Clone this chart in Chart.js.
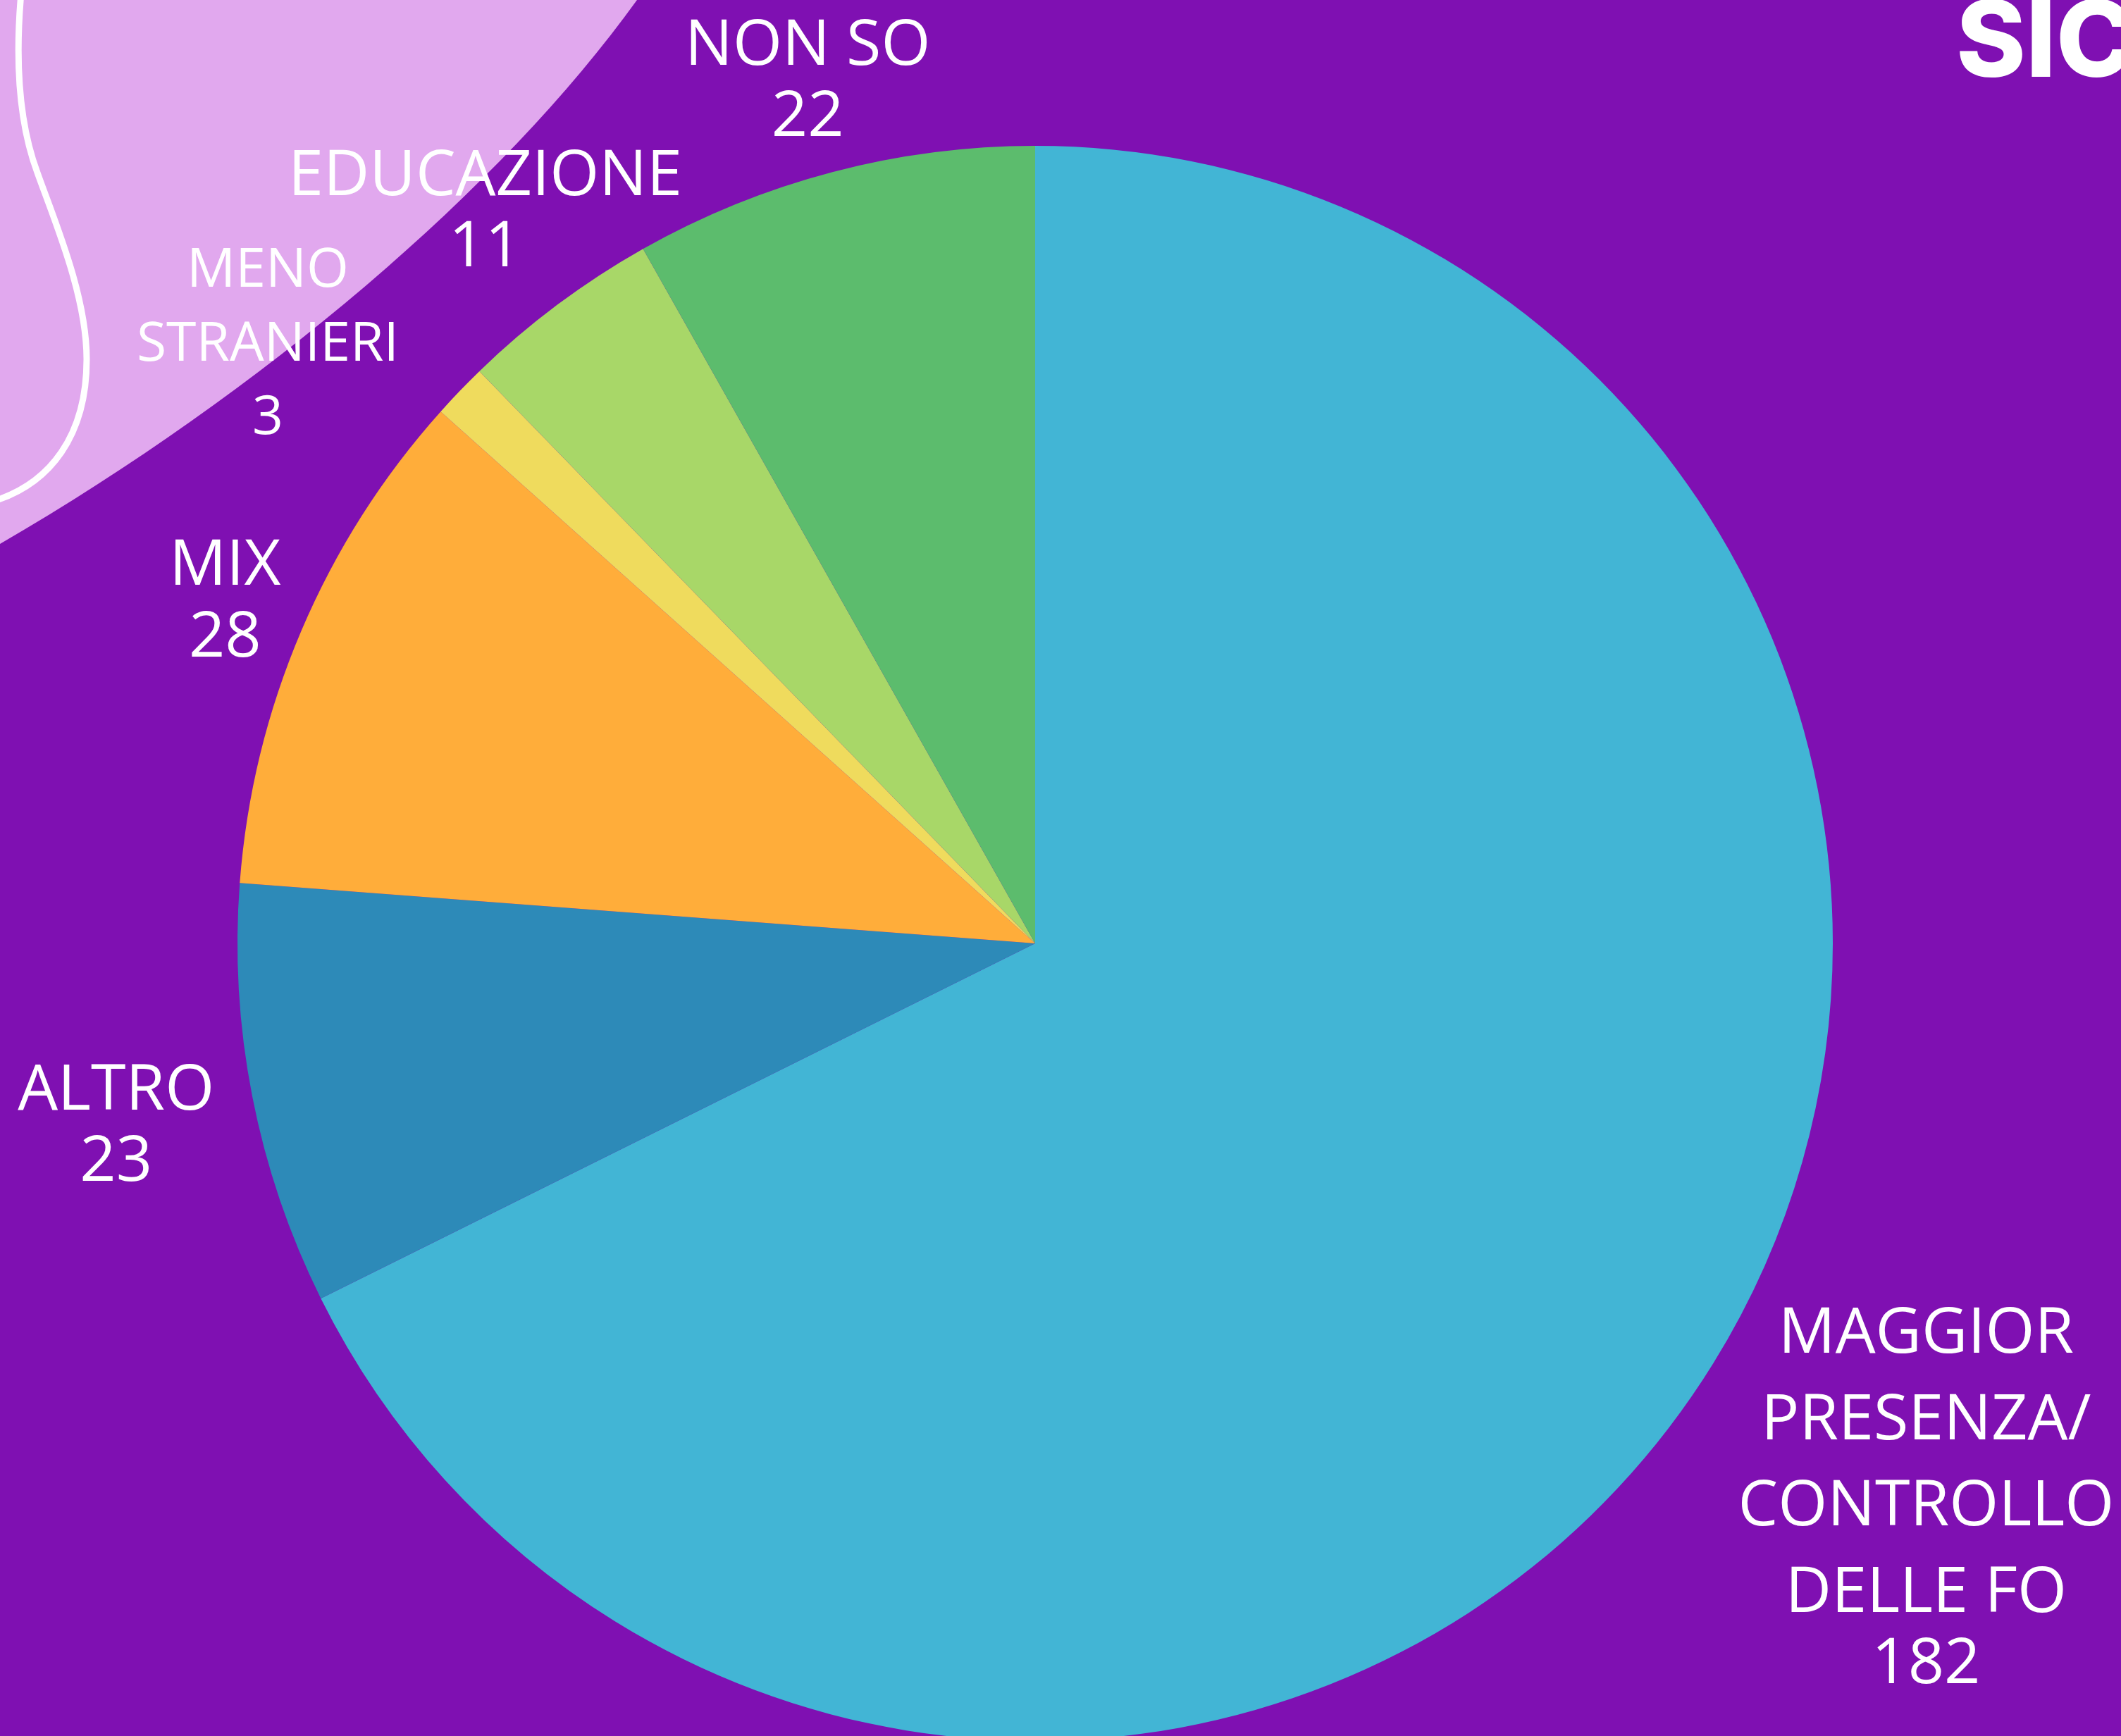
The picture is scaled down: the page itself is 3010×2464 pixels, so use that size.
<!DOCTYPE html>
<html>
<head>
<meta charset="utf-8">
<script src="https://cdn.jsdelivr.net/npm/chart.js@4.4.1/dist/chart.umd.min.js"></script>
<style>
    html, body { margin: 0; padding: 0; background: #7F10B2; overflow: hidden; }
    canvas { display: block; }
</style>
</head>
<body>
<canvas id="chart1" width="3010" height="2464"></canvas>
<script>
// data, clockwise from 12 o'clock
const categories = [
    ['MAGGIOR', 'PRESENZA/', 'CONTROLLO', 'DELLE FO'],
    ['ALTRO'],
    ['MIX'],
    ['MENO', 'STRANIERI'],
    ['EDUCAZIONE'],
    ['NON SO']
];
const values = [182, 23, 28, 3, 11, 22];
const sliceColors = ['#42B5D5', '#2D8AB8', '#FFAD3A', '#EFDB5D', '#A8D768', '#5CBC6D'];

// label layout: distance from centre (x radius), angle nudge (deg), font size
const labelDist = [1.314, 1.174, 1.104, 1.223, 1.151, 1.122];
const labelNudge = [0, 0, 0, -5.7, 0, 0];
const labelSize = [90, 90, 90, 77, 90, 90];

// purple page, lavender blob with white squiggle, and the cut-off title
const backdrop = {
    id: 'backdrop',
    beforeDraw(chart) {
        const ctx = chart.ctx;
        ctx.save();
        ctx.fillStyle = '#7F10B2';
        ctx.fillRect(0, 0, chart.width, chart.height);

        ctx.fillStyle = '#E1A8EE';
        ctx.beginPath();
        ctx.moveTo(0, 0);
        ctx.lineTo(904, 0);
        ctx.bezierCurveTo(712, 267, 372, 556, 0, 772);
        ctx.closePath();
        ctx.fill();

        ctx.strokeStyle = '#FFFFFF';
        ctx.lineWidth = 9;
        ctx.beginPath();
        ctx.moveTo(30, -10);
        ctx.bezierCurveTo(22, 80, 25, 170, 53, 245);
        ctx.bezierCurveTo(78, 315, 123, 420, 123, 510);
        ctx.bezierCurveTo(123, 620, 70, 685, -5, 710);
        ctx.stroke();

        ctx.fillStyle = '#FFFFFF';
        ctx.font = '800 150px Inter';
        ctx.textAlign = 'left';
        ctx.textBaseline = 'alphabetic';
        ctx.fillText('SIC', 2776, 109);
        ctx.restore();
    }
};

// outside labels: name lines then the count
const outerLabels = {
    id: 'outerLabels',
    afterDatasetsDraw(chart) {
        const ctx = chart.ctx;
        const arcs = chart.getDatasetMeta(0).data;
        ctx.save();
        ctx.fillStyle = '#FFFFFF';
        ctx.textAlign = 'center';
        ctx.textBaseline = 'alphabetic';
        arcs.forEach((arc, i) => {
            const p = arc.getProps(['x', 'y', 'startAngle', 'endAngle', 'outerRadius'], true);
            const mid = (p.startAngle + p.endAngle) / 2 + labelNudge[i] * Math.PI / 180;
            const cx = p.x + p.outerRadius * labelDist[i] * Math.cos(mid);
            const cy = p.y + p.outerRadius * labelDist[i] * Math.sin(mid);
            const fs = labelSize[i];
            const lines = categories[i].concat([String(values[i])]);
            const lineGap = fs * 1.36;
            const valueGap = fs < 90 ? fs * 1.36 : fs * 1.125;
            const cap = fs * 0.714;
            const span = cap + (lines.length - 2) * lineGap + valueGap;
            let y = cy - span / 2 + cap;
            ctx.font = fs + 'px "Open Sans"';
            lines.forEach((t, k) => {
                ctx.fillText(t, cx, y);
                y += (k === lines.length - 2) ? valueGap : lineGap;
            });
        });
        ctx.restore();
    }
};

new Chart(document.getElementById('chart1'), {
    type: 'pie',
    data: {
        labels: categories.map(c => c.join(' ')),
        datasets: [{
            data: values,
            backgroundColor: sliceColors,
            borderWidth: 0,
            radius: 1132
        }]
    },
    options: {
        responsive: false,
        animation: false,
        layout: {
            padding: {left: 337, right: 409, top: 214, bottom: 0}
        },
        plugins: {
            legend: {display: false},
            tooltip: {enabled: false}
        }
    },
    plugins: [backdrop, outerLabels]
});
</script>
</body>
</html>
